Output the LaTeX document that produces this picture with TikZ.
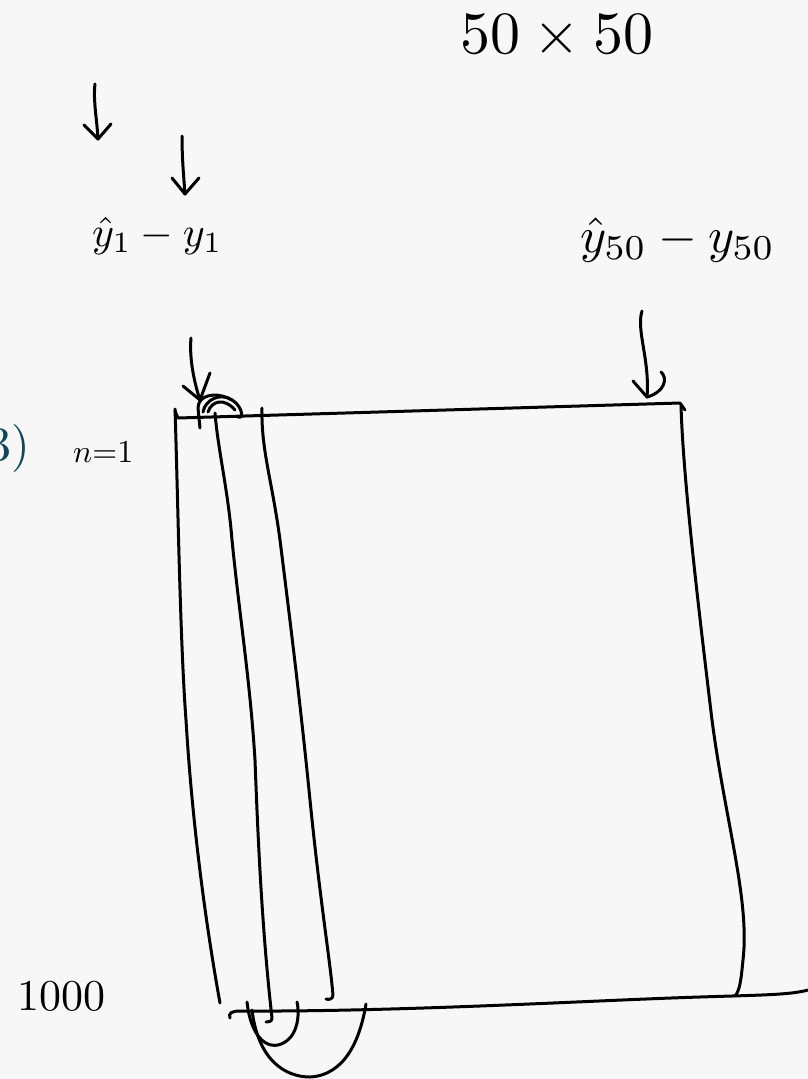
\documentclass[tikz,border=0pt]{standalone}
\begin{document}
\begin{tikzpicture}[x=1pt,y=-1pt,
  ink/.style={line width=3pt,line cap=round,line join=round,black},
  lbl/.style={inner sep=0pt}]
\fill[fill={rgb,255:red,247;green,247;blue,247}] (0,0) rectangle (808,1079);
\useasboundingbox (0,0) rectangle (808,1079);
\definecolor{teal3}{RGB}{14,72,92}

% labels
\node[lbl,anchor=base west] (title) at (460,53) {\scalebox{6}{$50\times50$}};
\node[lbl,anchor=base west] (d1) at (92,246) {\scalebox{4.2}{$\hat{y}_1 - y_1$}};
\node[lbl,anchor=base west] (d50) at (580,252) {\scalebox{5}{$\hat{y}_{50} - y_{50}$}};
\node[lbl,anchor=base east,text=teal3] (part) at (30,460) {\scalebox{4.8}{$3)$}};
\node[lbl,anchor=base west] (n) at (73,462) {\scalebox{3.2}{$n{=}1$}};
\node[lbl,anchor=base west] (last) at (17,1010) {\scalebox{4.4}{$1000$}};

% arrows (hand drawn)
\coordinate (a1s) at (95,84); \coordinate (a1e) at (98,139);
\draw[ink] (a1s) .. controls (93,100) and (97,120) .. (a1e);
\draw[ink] (84,125) -- (a1e) -- (111,124);
\coordinate (a2s) at (182,136); \coordinate (a2e) at (185,194);
\draw[ink] (a2s) .. controls (182,160) and (184,180) .. (a2e);
\draw[ink] (172,178) -- (a2e) -- (199,178);
\coordinate (a3s) at (642,311); \coordinate (a3e) at (647,397);
\draw[ink] (a3s) .. controls (636,330) and (650,360) .. (a3e);
\draw[ink] (633,381) -- (a3e) .. controls (665,392) and (668,378) .. (661,372);
\coordinate (a4s) at (191,338); \coordinate (a4e) at (200,400);
\draw[ink] (a4s) .. controls (189,360) and (195,385) .. (a4e);
\draw[ink] (183,386) -- (a4e) -- (210,373);

% loops at top
\draw[ink] (200,428) -- (198,408) .. controls (198,395) and (215,392) .. (228,398)
  .. controls (242,403) and (245,420) .. (238,417);
\draw[ink] (203,412) .. controls (205,400) and (220,392) .. (232,400);
\draw[ink] (208,412) .. controls (212,400) and (225,398) .. (235,410);

% matrix outline
\coordinate (tl) at (175,411); \coordinate (tr) at (680,403);
\draw[ink] (tl) -- (178,418) -- (tr) -- (685,410);
\draw[ink] (175,409) .. controls (178,500) and (180,640) .. (186,720)
  .. controls (192,820) and (205,920) .. (220,1003);
\draw[ink] (681,405) .. controls (683,480) and (700,620) .. (712,720)
  .. controls (725,820) and (750,900) .. (743,960) .. controls (741,980) and (740,990) .. (735,996);
\draw[ink] (230,1018) .. controls (228,1013) and (232,1011) .. (240,1011)
  .. controls (400,1012) and (600,1000) .. (700,997) .. controls (760,995) and (790,995) .. (808,990);
% inner columns
\draw[ink] (215,413) .. controls (218,450) and (228,490) .. (232,540)
  .. controls (240,620) and (250,680) .. (255,760)
  .. controls (258,840) and (262,930) .. (272,1018) .. controls (272,1022) and (268,1022) .. (266,1022);
\draw[ink] (262,408) .. controls (261,450) and (272,480) .. (280,540)
  .. controls (290,620) and (300,700) .. (310,800)
  .. controls (320,900) and (330,960) .. (333,995) .. controls (333,999) and (329,1000) .. (326,999);

% bottom U shapes
\draw[ink] (247,1002) .. controls (250,1030) and (262,1048) .. (278,1045)
  .. controls (298,1040) and (300,1015) .. (297,1002);
\draw[ink] (252,1010) .. controls (258,1060) and (285,1077) .. (310,1077)
  .. controls (345,1075) and (360,1040) .. (366,1004);
\end{tikzpicture}
\end{document}
